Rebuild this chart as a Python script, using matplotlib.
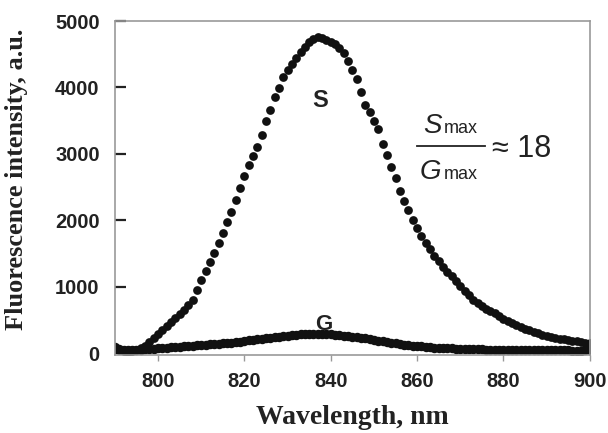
import numpy as np
import matplotlib
matplotlib.use('Agg')
import matplotlib.pyplot as plt

# wavelengths, nm (1 nm step)
wavelength = np.arange(790, 901)

# S spectrum, a.u.
s_values = [60, 40, 25, 20, 25, 40, 70, 110, 160, 220,
            290, 350, 410, 470, 530, 590, 650, 720, 800, 950,
            1100, 1230, 1370, 1510, 1650, 1810, 1970, 2130, 2300, 2480,
            2660, 2830, 2960, 3100, 3280, 3500, 3660, 3860, 3990, 4150,
            4260, 4350, 4440, 4530, 4610, 4680, 4730, 4760, 4740, 4710,
            4680, 4650, 4590, 4520, 4400, 4260, 4120, 3930, 3730, 3630,
            3500, 3370, 3150, 2980, 2800, 2630, 2440, 2290, 2150, 2000,
            1880, 1760, 1650, 1560, 1460, 1380, 1300, 1220, 1160, 1080,
            1010, 940, 870, 800, 760, 710, 670, 640, 600, 560,
            520, 490, 450, 420, 390, 360, 340, 315, 295, 275,
            260, 245, 230, 215, 205, 195, 185, 175, 165, 155,
            150]

# G spectrum, a.u.
g_values = [90, 60, 45, 40, 40, 45, 50, 55, 60, 65,
            70, 75, 80, 85, 90, 95, 100, 105, 110, 115,
            120, 125, 130, 135, 140, 145, 150, 158, 166, 174,
            182, 190, 198, 206, 214, 222, 230, 238, 246, 254,
            262, 270, 276, 281, 285, 288, 290, 290, 288, 285,
            280, 274, 267, 260, 252, 244, 236, 228, 220, 210,
            200, 188, 176, 165, 155, 145, 136, 127, 119, 112,
            105, 99, 93, 88, 83, 79, 75, 72, 69, 66,
            64, 62, 60, 58, 56, 54, 52, 51, 50, 49,
            48, 47, 46, 45, 44, 43, 43, 42, 42, 41,
            41, 40, 40, 40, 39, 39, 38, 38, 38, 40,
            45]

x_ticks = [800, 820, 840, 860, 880, 900]
y_ticks = [0, 1000, 2000, 3000, 4000, 5000]

fig = plt.figure(figsize=(6.08, 4.33), dpi=100)
ax = fig.add_axes([0.189, 0.180, 0.781, 0.7715])

ax.plot(wavelength, s_values, 'o', color='#111111', markersize=6.3, markeredgewidth=0)
ax.plot(wavelength, g_values, 'o', color='#111111', markersize=6.8, markeredgewidth=0)

ax.set_xlim(790, 900)
ax.set_ylim(-30, 5000)
ax.set_xticks(x_ticks)
ax.set_yticks(y_ticks)

for side in ['left', 'right', 'top', 'bottom']:
    ax.spines[side].set_color('#999999')
    ax.spines[side].set_linewidth(1.2)

ax.tick_params(axis='y', direction='in', length=8, width=1.6, color='#222222', pad=11)
ax.tick_params(axis='x', direction='out', length=4, width=1.0, color='#999999', pad=8)
for lbl in ax.get_xticklabels() + ax.get_yticklabels():
    lbl.set_fontfamily('Liberation Sans')
    lbl.set_fontweight('bold')
    lbl.set_fontsize(14.5)
    lbl.set_color('#222222')

ax.set_xlabel('Wavelength, nm', family='Liberation Serif', fontweight='bold',
              fontsize=20, color='#222222', labelpad=10)
ax.set_ylabel('Fluorescence intensity, a.u.', family='Liberation Serif', fontweight='bold',
              fontsize=19, color='#222222')
ax.yaxis.set_label_coords(-0.183, 0.525)

# curve labels
ax.text(837.6, 3810, 'S', family='Liberation Sans', fontweight='bold', fontsize=17,
        ha='center', va='center', color='#222222')
ax.text(838.3, 430, 'G', family='Liberation Sans', fontweight='bold', fontsize=16,
        ha='center', va='center', color='#222222')

# ratio annotation
ax.text(865.6, 3320, 'S', family='Liberation Sans', style='italic', fontsize=20,
        ha='right', va='baseline', color='#222222')
ax.text(866.3, 3320, 'max', family='Liberation Sans', fontsize=13,
        ha='left', va='baseline', color='#222222')
ax.plot([860.0, 875.7], [3120, 3120], color='#222222', linewidth=1.3)
ax.text(865.6, 2620, 'G', family='Liberation Sans', style='italic', fontsize=20,
        ha='right', va='baseline', color='#222222')
ax.text(866.3, 2620, 'max', family='Liberation Sans', fontsize=13,
        ha='left', va='baseline', color='#222222')
ax.text(877.3, 3070, '\u2248 18', family='Liberation Sans', fontsize=22,
        ha='left', va='center', color='#222222')

fig.savefig('out.png', dpi=100)
